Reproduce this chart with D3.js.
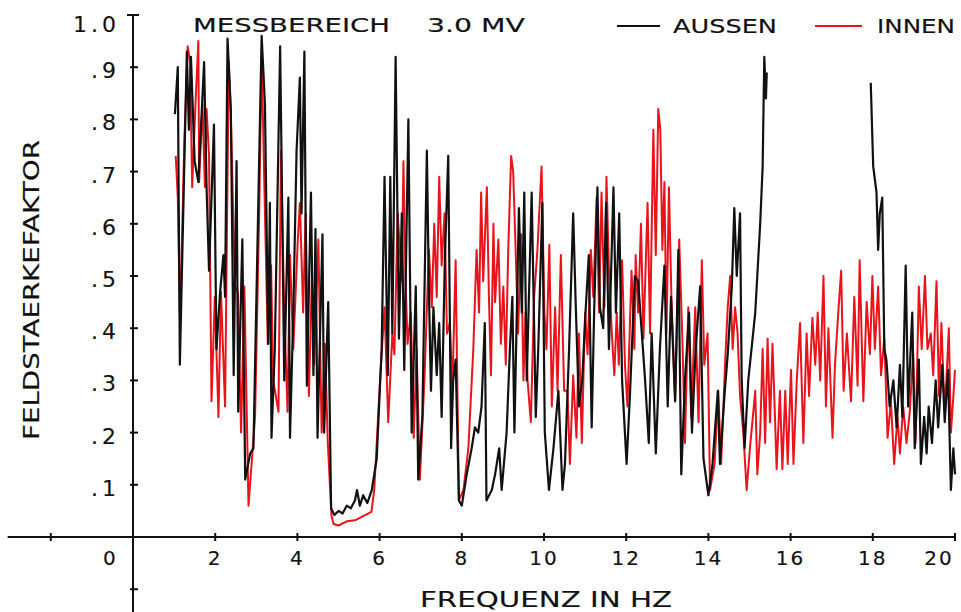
<!DOCTYPE html>
<html>
<head>
<meta charset="utf-8">
<script src="https://cdn.jsdelivr.net/npm/d3@7"></script>
<style>
  body { margin: 0; background: #fff; }
  text { font-family: "DejaVu Sans", sans-serif; fill: #111; stroke: #111; stroke-width: 0.15px; }
</style>
</head>
<body>
<div id="chart"></div>
<script>
// frequency (Hz) and field strength factor
var aussenHz = [1.02,1.09,1.14,1.31,1.36,1.41,1.5,1.59,1.73,1.79,1.85,1.97,2.03,2.12,2.2,2.24,2.3,2.38,2.45,2.52,2.56,2.66,2.73,2.85,2.93,3.13,3.21,3.29,3.33,3.37,3.45,3.58,3.62,3.68,3.78,3.82,3.9,3.98,4.06,4.1,4.17,4.23,4.33,4.39,4.44,4.49,4.61,4.65,4.75,4.82,
  4.9,5.0,5.1,5.2,5.3,5.4,5.45,5.52,5.6,5.7,5.81,5.93,6.05,
  6.12,6.2,6.26,6.31,6.39,6.47,6.54,6.6,6.7,6.78,6.88,6.94,7.04,7.15,7.2,7.25,7.31,7.39,7.45,7.51,7.59,7.67,7.74,7.79,7.85,7.93,8.0,8.12,8.24,8.32,8.4,8.48,8.56,8.6,8.73,8.81,8.91,8.97,9.09,
  9.17,9.23,9.28,9.39,9.46,9.52,9.58,9.7,9.8,9.86,9.96,10.02,10.12,10.23,10.35,10.45,10.51,10.61,10.71,10.77,10.85,10.93,11.01,11.09,11.16,11.22,11.3,11.36,11.44,11.51,11.58,11.69,11.75,11.83,11.9,
  12.01,12.09,12.21,12.29,12.38,12.46,12.55,12.62,12.72,12.82,12.93,13.01,13.09,13.19,13.27,13.34,13.43,13.53,13.6,13.69,13.8,13.88,14.0,14.1,14.23,14.28,14.39,14.47,14.57,14.63,14.69,14.77,14.81,14.88,14.97,
  15.14,15.26,15.32,15.36,15.4,15.42,16.5,
  17.95,18.01,18.09,18.13,18.17,18.23,18.28,18.33,18.41,18.5,18.58,18.66,18.72,18.8,18.86,18.96,19.02,19.12,19.17,19.25,19.31,19.36,19.44,19.53,19.59,19.69,19.75,19.83,19.9,19.96,20.0];
var aussen = [0.81,0.90,0.33,0.93,0.78,0.92,0.72,0.68,0.91,0.67,0.51,0.79,0.36,0.47,0.54,0.46,0.955,0.82,0.31,0.72,0.24,0.57,0.11,0.16,0.17,0.96,0.83,0.37,0.64,0.19,0.36,0.94,0.69,0.30,0.65,0.19,0.43,0.74,0.88,0.62,0.93,0.29,0.66,0.31,0.59,0.19,0.58,0.20,0.45,0.055,
  0.042,0.05,0.045,0.06,0.055,0.07,0.09,0.06,0.08,0.065,0.09,0.15,0.36,
  0.69,0.31,0.69,0.39,0.92,0.38,0.62,0.32,0.80,0.20,0.48,0.11,0.23,0.74,0.47,0.28,0.44,0.31,0.41,0.23,0.54,0.73,0.17,0.30,0.34,0.07,0.06,0.12,0.17,0.21,0.20,0.25,0.41,0.07,0.09,0.12,0.17,0.09,0.20,
  0.36,0.46,0.20,0.63,0.43,0.66,0.30,0.66,0.23,0.36,0.64,0.20,0.09,0.17,0.28,0.09,0.14,0.36,0.62,0.45,0.25,0.30,0.43,0.54,0.21,0.43,0.67,0.44,0.40,0.64,0.36,0.67,0.43,0.62,0.30,
  0.14,0.27,0.50,0.49,0.39,0.30,0.18,0.39,0.16,0.36,0.52,0.25,0.46,0.26,0.55,0.12,0.30,0.43,0.20,0.36,0.48,0.15,0.08,0.14,0.28,0.14,0.27,0.35,0.48,0.63,0.50,0.62,0.30,0.17,0.30,
  0.43,0.60,0.71,0.92,0.84,0.89,null,
  0.87,0.71,0.66,0.55,0.62,0.65,0.36,0.34,0.25,0.30,0.21,0.33,0.23,0.52,0.25,0.43,0.17,0.34,0.14,0.23,0.16,0.25,0.18,0.30,0.21,0.33,0.22,0.32,0.09,0.17,0.12];

var innenHz = [1.04,1.09,1.14,1.18,1.25,1.33,1.39,1.44,1.52,1.59,1.61,1.69,1.75,1.79,1.85,1.91,1.99,2.08,2.14,2.24,2.33,2.38,2.48,2.55,2.63,2.71,2.81,2.97,3.07,3.13,3.2,3.28,3.36,3.41,3.54,3.6,3.68,3.76,3.82,3.9,4.01,4.06,4.14,4.2,4.28,4.35,4.41,4.51,4.59,4.67,4.74,4.83,
  4.88,5.0,5.2,5.4,5.6,5.8,5.87,
  6.01,6.12,6.21,6.31,6.36,6.44,6.54,6.58,6.63,6.68,6.76,6.83,6.9,6.98,7.09,7.2,7.27,7.33,7.39,7.45,7.51,7.58,7.64,7.71,7.77,7.85,7.93,8.04,8.16,8.28,8.36,8.42,8.47,8.52,8.61,8.66,8.71,8.77,8.81,8.89,8.95,9.01,9.07,
  9.13,9.2,9.25,9.31,9.37,9.44,9.5,9.55,9.6,9.68,9.76,9.84,9.94,10.01,10.06,10.13,10.19,10.27,10.33,10.41,10.49,10.57,10.63,10.71,10.79,10.85,10.92,11.0,11.06,11.14,11.2,11.28,11.34,11.4,11.47,11.52,11.58,11.65,11.71,11.77,11.82,11.9,11.97,
  12.03,12.13,12.2,12.23,12.29,12.36,12.42,12.52,12.58,12.66,12.72,12.78,12.83,12.88,12.93,12.98,13.04,13.1,13.19,13.29,13.37,13.43,13.51,13.58,13.68,13.76,13.84,13.9,13.98,14.04,14.15,14.24,14.31,14.41,14.47,14.53,14.59,14.65,14.71,14.77,14.85,14.93,
  15.01,15.07,15.14,15.19,15.26,15.32,15.38,15.44,15.5,15.56,15.62,15.66,15.74,15.8,15.87,15.93,16.01,16.07,16.15,16.23,16.31,16.39,16.45,16.53,16.6,16.66,16.72,16.8,16.86,16.92,17.02,17.08,17.16,17.23,17.29,17.37,17.47,17.55,17.63,17.68,17.77,17.85,17.93,17.99,
  18.05,18.13,18.2,18.28,18.36,18.44,18.52,18.6,18.66,18.74,18.82,18.9,18.98,19.04,19.12,19.19,19.27,19.33,19.41,19.47,19.55,19.61,19.67,19.74,19.79,19.85,19.9,19.96,20.0];
var innen = [0.73,0.65,0.43,0.53,0.76,0.94,0.91,0.67,0.83,0.95,0.68,0.83,0.67,0.82,0.73,0.26,0.46,0.23,0.47,0.25,0.91,0.81,0.48,0.47,0.20,0.48,0.06,0.23,0.62,0.92,0.66,0.37,0.52,0.30,0.24,0.74,0.43,0.24,0.54,0.36,0.57,0.64,0.43,0.62,0.27,0.49,0.33,0.57,0.20,0.37,0.18,0.04,
  0.025,0.022,0.03,0.032,0.04,0.048,0.09,
  0.30,0.44,0.22,0.39,0.35,0.62,0.49,0.72,0.50,0.37,0.43,0.19,0.36,0.11,0.30,0.55,0.44,0.60,0.46,0.69,0.52,0.62,0.39,0.41,0.28,0.53,0.07,0.09,0.17,0.36,0.55,0.43,0.66,0.49,0.67,0.46,0.31,0.60,0.45,0.57,0.37,0.48,0.33,
  0.55,0.73,0.70,0.55,0.39,0.58,0.30,0.43,0.30,0.22,0.46,0.55,0.71,0.43,0.36,0.56,0.25,0.44,0.28,0.54,0.28,0.28,0.14,0.31,0.19,0.39,0.18,0.43,0.35,0.55,0.46,0.65,0.43,0.66,0.44,0.69,0.51,0.39,0.31,0.43,0.33,0.53,0.33,
  0.25,0.51,0.36,0.54,0.43,0.60,0.38,0.64,0.39,0.78,0.54,0.82,0.78,0.55,0.68,0.39,0.67,0.46,0.26,0.57,0.37,0.18,0.44,0.23,0.44,0.22,0.53,0.33,0.39,0.09,0.14,0.28,0.14,0.34,0.44,0.50,0.36,0.44,0.39,0.27,0.20,0.09,
  0.17,0.22,0.28,0.12,0.20,0.36,0.18,0.38,0.22,0.37,0.23,0.13,0.28,0.13,0.28,0.14,0.32,0.14,0.30,0.41,0.18,0.39,0.27,0.42,0.33,0.43,0.30,0.50,0.25,0.40,0.19,0.33,0.43,0.51,0.28,0.39,0.26,0.46,0.29,0.53,0.26,0.45,0.35,0.50,
  0.36,0.48,0.31,0.38,0.19,0.26,0.14,0.23,0.16,0.25,0.18,0.24,0.35,0.18,0.48,0.36,0.50,0.36,0.39,0.31,0.49,0.27,0.41,0.25,0.30,0.40,0.20,0.27,0.32];

var xTicks = [-2,0,2,4,6,8,10,12,14,16,18,20];
var yTicks = [-0.1,0.1,0.2,0.3,0.4,0.5,0.6,0.7,0.8,0.9,1.0];
var yTickLabels = ["",".1",".2",".3",".4",".5",".6",".7",".8",".9","1.0"];

var width = 961, height = 612;

var svg = d3.select("#chart").append("svg")
    .attr("width", width)
    .attr("height", height);

var x = d3.scaleLinear().domain([0, 20]).range([133, 955]);
var y = d3.scaleLinear().domain([0, 1]).range([537, 15]);

// axes lines
svg.append("line")
    .attr("x1", x(-3.05)).attr("x2", x(20))
    .attr("y1", y(0)).attr("y2", y(0))
    .style("stroke", "#111").style("stroke-width", 2);
svg.append("line")
    .attr("x1", x(0)).attr("x2", x(0))
    .attr("y1", y(1)).attr("y2", y(-0.145))
    .style("stroke", "#111").style("stroke-width", 2);

// x ticks
svg.selectAll(".xtick")
    .data(xTicks)
    .enter().append("line")
    .attr("class", "xtick")
    .attr("x1", function(d){ return x(d); })
    .attr("x2", function(d){ return x(d); })
    .attr("y1", y(0) - 4)
    .attr("y2", y(0) + 4)
    .style("stroke", "#111").style("stroke-width", 2);

svg.selectAll(".xlab")
    .data(xTicks.filter(function(d){ return d >= 0; }))
    .enter().append("text")
    .attr("class", "xlab")
    .attr("x", function(d){
        if (d == 0) return x(-0.55);
        if (d == 20) return x(20) - 16;
        return x(d);
    })
    .attr("y", 565)
    .attr("text-anchor", "middle")
    .style("font-size", "20px")
    .style("letter-spacing", "2px")
    .text(function(d){ return d; });

// y ticks
svg.selectAll(".ytick")
    .data(yTicks)
    .enter().append("line")
    .attr("class", "ytick")
    .attr("x1", function(d){ return d == 1 ? x(0) - 6 : x(0) - 3; })
    .attr("x2", function(d){ return d == 1 ? x(0) + 6 : x(0) + 5; })
    .attr("y1", function(d){ return y(d); })
    .attr("y2", function(d){ return y(d); })
    .style("stroke", "#111").style("stroke-width", 2);

svg.selectAll(".ylab")
    .data(yTicks)
    .enter().append("text")
    .attr("class", "ylab")
    .attr("x", 120)
    .attr("y", function(d){ return Math.max(y(d) + 11, 32); })
    .attr("text-anchor", "end")
    .style("font-size", "22px")
    .style("letter-spacing", "4px")
    .text(function(d,i){ return yTickLabels[i]; });

// axis titles
svg.append("text")
    .attr("transform", "translate(39,290) rotate(-90)")
    .attr("text-anchor", "middle")
    .attr("textLength", 300)
    .attr("lengthAdjust", "spacingAndGlyphs")
    .style("font-size", "22px")
    .text("FELDSTAERKEFAKTOR");

svg.append("text")
    .attr("x", 420).attr("y", 607)
    .attr("textLength", 252)
    .attr("lengthAdjust", "spacingAndGlyphs")
    .style("font-size", "22px")
    .text("FREQUENZ  IN  HZ");

// title and legend
svg.append("text")
    .attr("x", 193).attr("y", 32)
    .attr("textLength", 197)
    .attr("lengthAdjust", "spacingAndGlyphs")
    .style("font-size", "19px")
    .text("MESSBEREICH");
svg.append("text")
    .attr("x", 427).attr("y", 32)
    .attr("textLength", 98)
    .attr("lengthAdjust", "spacingAndGlyphs")
    .style("font-size", "19px")
    .text("3.0 MV");

var legend = [
  {name: "AUSSEN", color: "#111", x0: 617, x1: 660, tx: 673, tl: 104},
  {name: "INNEN", color: "#e8131b", x0: 815, x1: 862, tx: 877, tl: 78}
];
legend.forEach(function(l){
  svg.append("line")
    .attr("x1", l.x0).attr("x2", l.x1)
    .attr("y1", 26).attr("y2", 26)
    .style("stroke", l.color).style("stroke-width", 2);
  svg.append("text")
    .attr("x", l.tx).attr("y", 33)
    .attr("textLength", l.tl)
    .attr("lengthAdjust", "spacingAndGlyphs")
    .style("font-size", "19px")
    .text(l.name);
});

// the two curves
var line = d3.line()
    .defined(function(d){ return d[1] != null; })
    .x(function(d){ return x(d[0]); })
    .y(function(d){ return y(d[1]); });

var innenData = innenHz.map(function(d,i){ return [d, innen[i]]; });
var aussenData = aussenHz.map(function(d,i){ return [d, aussen[i]]; });

svg.append("path")
    .datum(innenData)
    .attr("d", line)
    .style("fill", "none")
    .style("stroke", "#e8131b")
    .style("stroke-width", 2)
    .style("stroke-linejoin", "round");

svg.append("path")
    .datum(aussenData)
    .attr("d", line)
    .style("fill", "none")
    .style("stroke", "#111")
    .style("stroke-width", 2.2)
    .style("stroke-linejoin", "round");
</script>
</body>
</html>
